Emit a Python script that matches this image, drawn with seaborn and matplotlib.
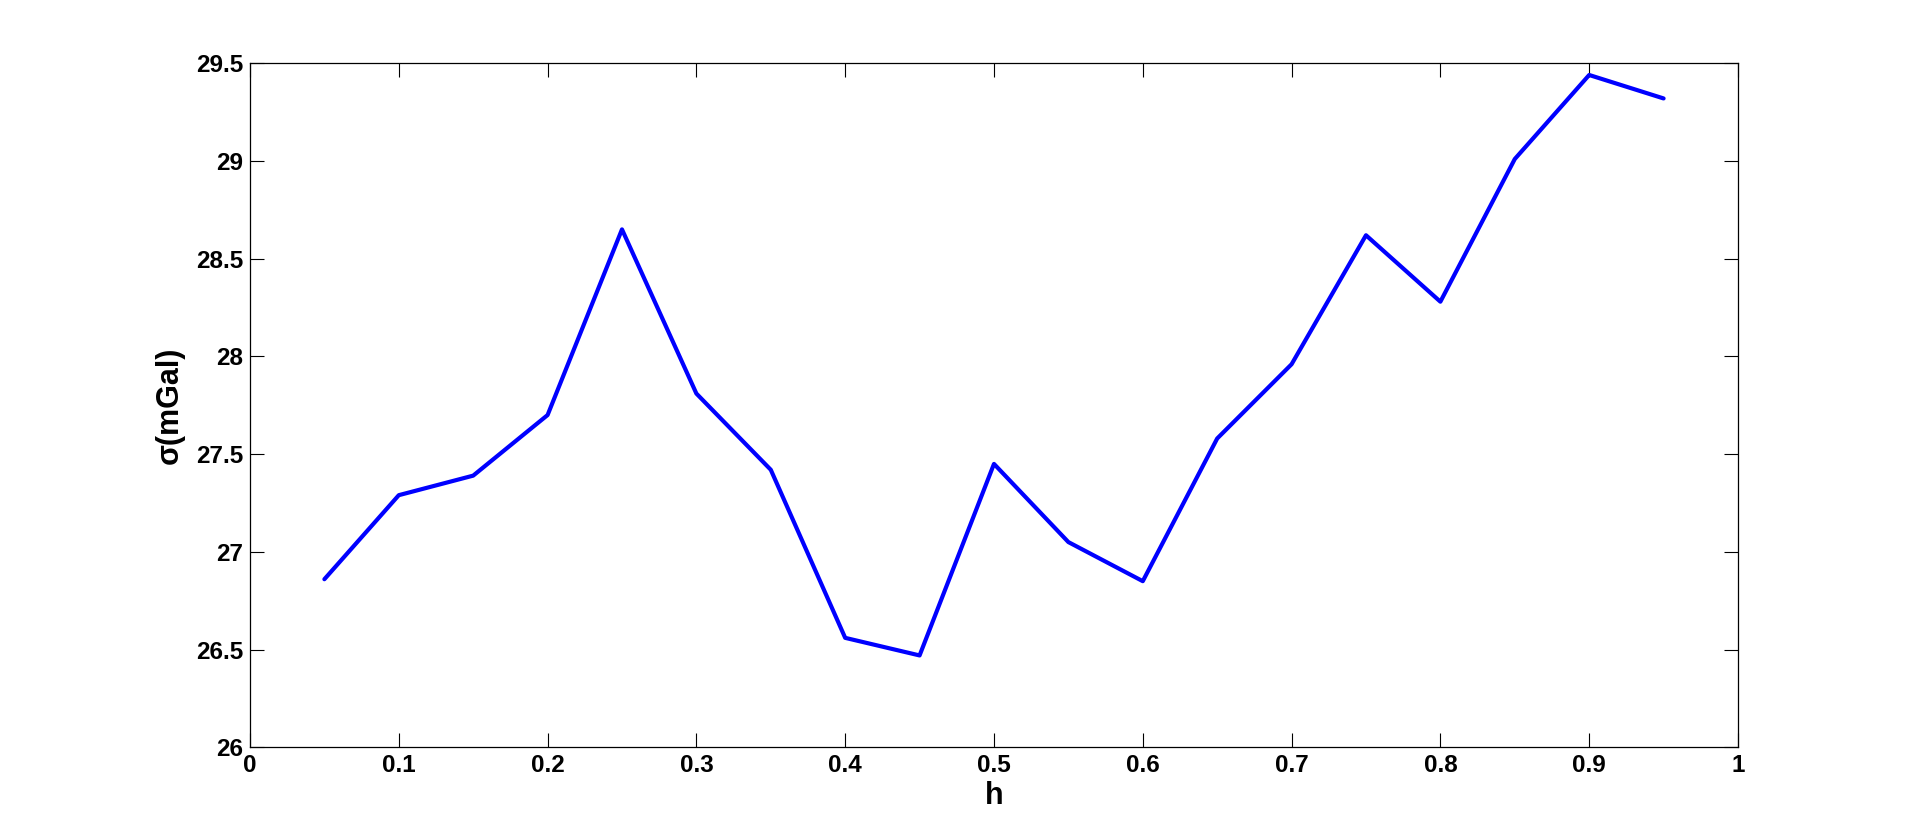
import matplotlib
matplotlib.use("Agg")
import matplotlib.pyplot as plt
import seaborn as sns
import pandas as pd

h = [0.05, 0.10, 0.15, 0.20, 0.25, 0.30, 0.35, 0.40, 0.45, 0.50,
     0.55, 0.60, 0.65, 0.70, 0.75, 0.80, 0.85, 0.90, 0.95]
sigma = [26.86, 27.29, 27.39, 27.70, 28.65, 27.81, 27.42, 26.56, 26.47, 27.45,
         27.05, 26.85, 27.58, 27.96, 28.62, 28.28, 29.01, 29.44, 29.32]
xticks = [0, 0.1, 0.2, 0.3, 0.4, 0.5, 0.6, 0.7, 0.8, 0.9, 1]
xticklabels = ["0", "0.1", "0.2", "0.3", "0.4", "0.5", "0.6", "0.7", "0.8", "0.9", "1"]
yticks = [26, 26.5, 27, 27.5, 28, 28.5, 29, 29.5]
yticklabels = ["26", "26.5", "27", "27.5", "28", "28.5", "29", "29.5"]

sns.set_style("white")
plt.rcParams['font.family'] = ['Liberation Sans', 'DejaVu Sans']
plt.rcParams['text.color'] = 'black'
plt.rcParams['axes.labelcolor'] = 'black'
plt.rcParams['xtick.color'] = 'black'
plt.rcParams['ytick.color'] = 'black'

df = pd.DataFrame({"h": h, "sigma": sigma})

fig = plt.figure(figsize=(19.2, 8.39), dpi=100)
ax = fig.add_axes([0.1302, 0.1093, 0.9052 - 0.1302, 0.9246 - 0.1093])
sns.lineplot(data=df, x="h", y="sigma", ax=ax, color=(0, 0, 1), linewidth=3)

ax.set_xlim(0, 1)
ax.set_ylim(26, 29.5)
ax.set_xticks(xticks)
ax.set_xticklabels(xticklabels, fontsize=17.5, fontweight='bold', color='black')
ax.set_yticks(yticks)
ax.set_yticklabels(yticklabels, fontsize=17.5, fontweight='bold', color='black')
ax.tick_params(direction='in', length=10, width=0.8, top=True, right=True,
               bottom=True, left=True, pad=5, colors='black')
for s in ax.spines.values():
    s.set_visible(True)
    s.set_color('black')
    s.set_linewidth(0.9)

ax.set_xlabel("h", fontsize=22, fontweight='bold', labelpad=3, color='black')
ax.set_ylabel("σ(mGal)", fontsize=22, fontweight='bold', labelpad=8, color='black')

fig.savefig("out.png", dpi=100)
